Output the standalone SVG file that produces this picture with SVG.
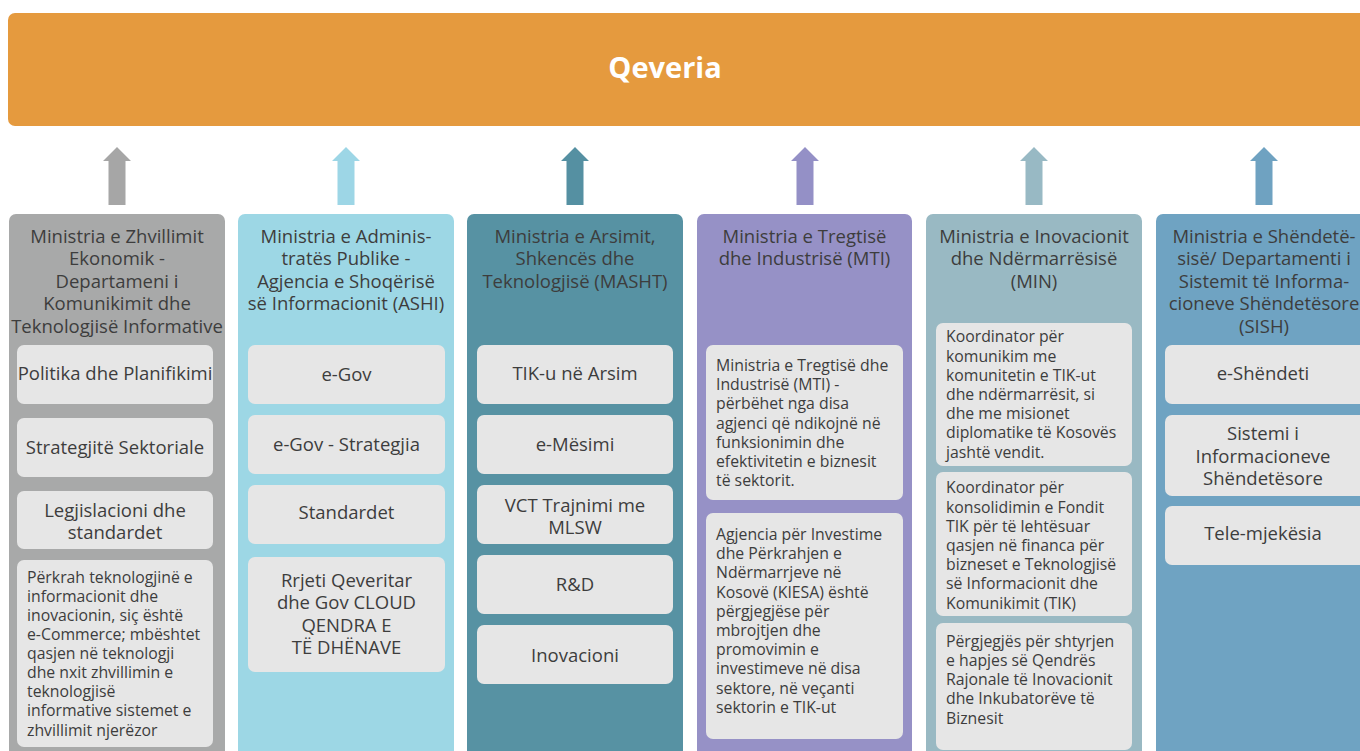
<svg xmlns="http://www.w3.org/2000/svg" width="1360" height="751" viewBox="0 0 1360 751">
<style>
.t{font-family:"Open Sans","Noto Sans","Liberation Sans",sans-serif;fill:#3d3d3d}
.h{font-size:18.5px;text-anchor:middle}
.b{font-size:18.5px;text-anchor:middle}
.s{font-size:15.8px}
.box{fill:#e6e6e6}
</style>
<defs>
<path id="arr" d="M-8.5,58 V14 H-14 L0,0 L14,14 H8.5 V58 Z"/>
</defs>
<g id="qeveria">
<rect x="8" y="13" width="1370" height="113" rx="7" fill="#e59a3e"/>
<text x="665" y="78" font-family="'Open Sans','Noto Sans','Liberation Sans',sans-serif" font-size="29" font-weight="bold" fill="#ffffff" text-anchor="middle">Qeveria</text>
</g>
<g id="connectors">
<use href="#arr" x="117" y="147" fill="#a6a6a6"/>
<use href="#arr" x="346" y="147" fill="#9dd6e6"/>
<use href="#arr" x="575" y="147" fill="#5590a2"/>
<use href="#arr" x="805" y="147" fill="#9490c6"/>
<use href="#arr" x="1034" y="147" fill="#98b9c4"/>
<use href="#arr" x="1264" y="147" fill="#6fa2c1"/>
</g>
<g id="col1">
<rect x="9" y="214" width="216" height="560" rx="7" fill="#a8a9a9"/>
<text class="t h"><tspan x="117" y="242.5">Ministria e Zhvillimit</tspan><tspan x="117" y="265">Ekonomik -</tspan><tspan x="117" y="287.5">Departameni i</tspan><tspan x="117" y="310">Komunikimit dhe</tspan><tspan x="117" y="332.5">Teknologjisë Informative</tspan></text>
<rect class="box" x="17" y="345" width="196" height="59" rx="7"/>
<text class="t b" x="115" y="380">Politika dhe Planifikimi</text>
<rect class="box" x="17" y="418" width="196" height="59" rx="7"/>
<text class="t b" x="115" y="454">Strategjitë Sektoriale</text>
<rect class="box" x="17" y="491" width="196" height="58" rx="7"/>
<text class="t b"><tspan x="115" y="517">Legjislacioni dhe</tspan><tspan x="115" y="539.4">standardet</tspan></text>
<rect class="box" x="17" y="560" width="196" height="187" rx="7"/>
<text class="t s"><tspan x="27" y="582.7">Përkrah teknologjinë e</tspan><tspan x="27" y="601.8">informacionit dhe</tspan><tspan x="27" y="620.9">inovacionin, siç është</tspan><tspan x="27" y="640">e-Commerce; mbështet</tspan><tspan x="27" y="659.1">qasjen në teknologji</tspan><tspan x="27" y="678.2">dhe nxit zhvillimin e</tspan><tspan x="27" y="697.3">teknologjisë</tspan><tspan x="27" y="716.4">informative sistemet e</tspan><tspan x="27" y="735.5">zhvillimit njerëzor</tspan></text>
</g>
<g id="col2">
<rect x="238" y="214" width="216" height="560" rx="7" fill="#9dd7e5"/>
<text class="t h"><tspan x="346" y="242.5">Ministria e Adminis-</tspan><tspan x="346" y="265">tratës Publike -</tspan><tspan x="346" y="287.5">Agjencia e Shoqërisë</tspan><tspan x="346" y="310">së Informacionit (ASHI)</tspan></text>
<rect class="box" x="248" y="345" width="197" height="59" rx="7"/>
<text class="t b" x="346.5" y="380.5">e-Gov</text>
<rect class="box" x="248" y="415" width="197" height="59" rx="7"/>
<text class="t b" x="346.5" y="451">e-Gov - Strategjia</text>
<rect class="box" x="248" y="485" width="197" height="59" rx="7"/>
<text class="t b" x="346.5" y="519">Standardet</text>
<rect class="box" x="248" y="557" width="197" height="115" rx="7"/>
<text class="t b"><tspan x="346.5" y="587">Rrjeti Qeveritar</tspan><tspan x="346.5" y="609.4">dhe Gov CLOUD</tspan><tspan x="346.5" y="631.8">QENDRA E</tspan><tspan x="346.5" y="654.2">TË DHËNAVE</tspan></text>
</g>
<g id="col3">
<rect x="467" y="214" width="216" height="560" rx="7" fill="#5792a3"/>
<text class="t h"><tspan x="575" y="242.5">Ministria e Arsimit,</tspan><tspan x="575" y="265">Shkencës dhe</tspan><tspan x="575" y="287.5">Teknologjisë (MASHT)</tspan></text>
<rect class="box" x="477" y="345" width="196" height="59" rx="7"/>
<text class="t b" x="575" y="380">TIK-u në Arsim</text>
<rect class="box" x="477" y="415" width="196" height="59" rx="7"/>
<text class="t b" x="575" y="451">e-Mësimi</text>
<rect class="box" x="477" y="485" width="196" height="59" rx="7"/>
<text class="t b"><tspan x="575" y="511.5">VCT Trajnimi me</tspan><tspan x="575" y="533.9">MLSW</tspan></text>
<rect class="box" x="477" y="555" width="196" height="59" rx="7"/>
<text class="t b" x="575" y="590.7">R&amp;D</text>
<rect class="box" x="477" y="625" width="196" height="59" rx="7"/>
<text class="t b" x="575" y="662">Inovacioni</text>
</g>
<g id="col4">
<rect x="697" y="214" width="215" height="560" rx="7" fill="#9691c6"/>
<text class="t h"><tspan x="804.5" y="242.5">Ministria e Tregtisë</tspan><tspan x="804.5" y="265">dhe Industrisë (MTI)</tspan></text>
<rect class="box" x="706" y="345" width="197" height="155" rx="7"/>
<text class="t s"><tspan x="716" y="371">Ministria e Tregtisë dhe</tspan><tspan x="716" y="390.2">Industrisë (MTI) -</tspan><tspan x="716" y="409.4">përbëhet nga disa</tspan><tspan x="716" y="428.6">agjenci që ndikojnë në</tspan><tspan x="716" y="447.8">funksionimin dhe</tspan><tspan x="716" y="467">efektivitetin e biznesit</tspan><tspan x="716" y="486.2">të sektorit.</tspan></text>
<rect class="box" x="706" y="513" width="197" height="226" rx="7"/>
<text class="t s"><tspan x="716" y="540">Agjencia për Investime</tspan><tspan x="716" y="559.2">dhe Përkrahjen e</tspan><tspan x="716" y="578.4">Ndërmarrjeve në</tspan><tspan x="716" y="597.6">Kosovë (KIESA) është</tspan><tspan x="716" y="616.8">përgjegjëse për</tspan><tspan x="716" y="636">mbrojtjen dhe</tspan><tspan x="716" y="655.2">promovimin e</tspan><tspan x="716" y="674.4">investimeve në disa</tspan><tspan x="716" y="693.6">sektore, në veçanti</tspan><tspan x="716" y="712.8">sektorin e TIK-ut</tspan></text>
</g>
<g id="col5">
<rect x="926" y="214" width="216" height="560" rx="7" fill="#99b9c3"/>
<text class="t h"><tspan x="1034" y="242.5">Ministria e Inovacionit</tspan><tspan x="1034" y="265">dhe Ndërmarrësisë</tspan><tspan x="1034" y="287.5">(MIN)</tspan></text>
<rect class="box" x="936" y="323" width="196" height="143" rx="7"/>
<text class="t s"><tspan x="946" y="342.3">Koordinator për</tspan><tspan x="946" y="361.5">komunikim me</tspan><tspan x="946" y="380.7">komunitetin e TIK-ut</tspan><tspan x="946" y="399.9">dhe ndërmarrësit, si</tspan><tspan x="946" y="419.1">dhe me misionet</tspan><tspan x="946" y="438.3">diplomatike të Kosovës</tspan><tspan x="946" y="457.5">jashtë vendit.</tspan></text>
<rect class="box" x="936" y="472" width="196" height="144" rx="7"/>
<text class="t s"><tspan x="946" y="493.3">Koordinator për</tspan><tspan x="946" y="512.5">konsolidimin e Fondit</tspan><tspan x="946" y="531.7">TIK për të lehtësuar</tspan><tspan x="946" y="550.9">qasjen në financa për</tspan><tspan x="946" y="570.1">bizneset e Teknologjisë</tspan><tspan x="946" y="589.3">së Informacionit dhe</tspan><tspan x="946" y="608.5">Komunikimit (TIK)</tspan></text>
<rect class="box" x="936" y="623" width="196" height="127" rx="7"/>
<text class="t s"><tspan x="946" y="646.7">Përgjegjës për shtyrjen</tspan><tspan x="946" y="665.9">e hapjes së Qendrës</tspan><tspan x="946" y="685.1">Rajonale të Inovacionit</tspan><tspan x="946" y="704.3">dhe Inkubatorëve të</tspan><tspan x="946" y="723.5">Biznesit</tspan></text>
</g>
<g id="col6">
<rect x="1156" y="214" width="216" height="560" rx="7" fill="#6fa3c2"/>
<text class="t h"><tspan x="1264" y="242.5">Ministria e Shëndetë-</tspan><tspan x="1264" y="265">sisë/ Departamenti i</tspan><tspan x="1264" y="287.5">Sistemit të Informa-</tspan><tspan x="1264" y="310">cioneve Shëndetësore</tspan><tspan x="1264" y="332.5">(SISH)</tspan></text>
<rect class="box" x="1165" y="345" width="206" height="59" rx="7"/>
<text class="t b" x="1263" y="380">e-Shëndeti</text>
<rect class="box" x="1165" y="415" width="206" height="81" rx="7"/>
<text class="t b"><tspan x="1263" y="440">Sistemi i</tspan><tspan x="1263" y="462.5">Informacioneve</tspan><tspan x="1263" y="485">Shëndetësore</tspan></text>
<rect class="box" x="1165" y="506" width="206" height="59" rx="7"/>
<text class="t b" x="1263" y="540">Tele-mjekësia</text>
</g>
</svg>
